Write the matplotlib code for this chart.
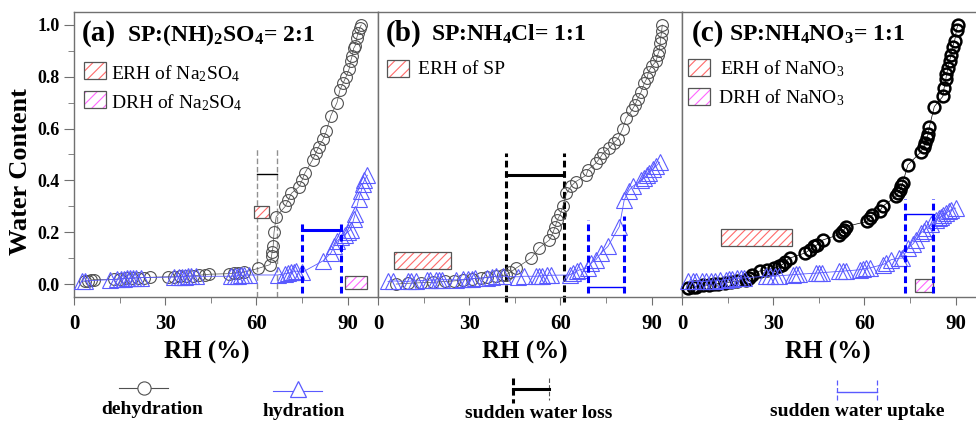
import matplotlib
matplotlib.use("Agg")
import matplotlib.pyplot as plt
from matplotlib.patches import Rectangle
from matplotlib.lines import Line2D
from matplotlib.ticker import MultipleLocator

plt.rcParams['font.family'] = ['Liberation Serif', 'DejaVu Serif']
plt.rcParams['mathtext.fontset'] = 'custom'
plt.rcParams['mathtext.rm'] = 'Liberation Serif'
plt.rcParams['mathtext.it'] = 'Liberation Serif:italic'
plt.rcParams['mathtext.bf'] = 'Liberation Serif:bold'
plt.rcParams['hatch.linewidth'] = 0.8

# ---------------- data ----------------
# panel (a) SP:(NH4)2SO4 = 2:1
dehy_a_x = [3.5, 4.5, 5.5, 6.5, 13, 15, 17, 19, 21, 23, 25, 31, 33, 35, 37, 39, 41, 43, 44.5,
            51, 52.5, 54, 56, 60.5, 64.5, 65, 65.2, 65.5, 65.8, 66.5, 69.5, 70.5, 71.5, 74, 75, 76,
            78.5, 79.5, 80.5, 82, 83, 84.5, 86.5, 87.5, 88.5, 89.5, 90.5, 91, 91.5, 92, 92.5, 93,
            93.5, 94, 94.5]
dehy_a_y = [0.01, 0.012, 0.015, 0.017, 0.018, 0.02, 0.022, 0.022, 0.024, 0.025, 0.026, 0.028, 0.028,
            0.03, 0.03, 0.032, 0.034, 0.036, 0.038, 0.04, 0.042, 0.044, 0.046, 0.06, 0.075, 0.11,
            0.125, 0.145, 0.2, 0.26, 0.30, 0.325, 0.35, 0.375, 0.40, 0.43, 0.48, 0.505, 0.53, 0.56,
            0.59, 0.65, 0.70, 0.75, 0.775, 0.80, 0.83, 0.86, 0.88, 0.91, 0.92, 0.95, 0.97, 0.99, 1.0]
hy_a_x = [2.5, 3.5, 12, 14, 15.5, 16.5, 17.5, 18.5, 19.5, 20.5, 22, 33, 34.5, 35.5, 36.5, 37.5,
          38.5, 40, 51.5, 53, 54, 55, 56, 57.5, 67, 69.5, 70.5, 71.5, 72.5, 73, 75, 82, 84.5, 85.5,
          86.5, 87.7, 89, 90, 91, 92, 92.5, 93.7, 94.5, 95, 95.5, 96.5]
hy_a_y = [0.01, 0.012, 0.017, 0.018, 0.02, 0.021, 0.022, 0.023, 0.024, 0.024, 0.025, 0.027, 0.028,
          0.028, 0.029, 0.03, 0.03, 0.03, 0.03, 0.031, 0.032, 0.033, 0.034, 0.035, 0.035, 0.04,
          0.042, 0.045, 0.048, 0.05, 0.045, 0.09, 0.12, 0.145, 0.165, 0.18, 0.19, 0.2, 0.21, 0.25,
          0.27, 0.33, 0.36, 0.385, 0.40, 0.42]

# panel (b) SP:NH4Cl = 1:1
dehy_b_x = [6, 10, 14, 18, 22, 25, 28, 31, 34, 36, 38.9, 41, 42.2, 43.5, 45.5, 50.4, 53, 56.4, 57.5,
            58.3, 59, 60, 60.8, 62, 63.5, 65, 68.5, 69, 71.7, 73, 74, 76, 77.5, 78.9, 80.5, 81.6,
            83.5, 84.5, 85.4, 86.5, 87.6, 88.5, 89, 90, 91.5, 92, 92.5, 92.8, 93, 93.3, 93.5]
dehy_b_y = [0.0, 0.003, 0.005, 0.007, 0.01, 0.012, 0.016, 0.02, 0.023, 0.026, 0.03, 0.033, 0.036,
            0.045, 0.062, 0.1, 0.14, 0.17, 0.197, 0.222, 0.248, 0.27, 0.3, 0.35, 0.377, 0.395, 0.42,
            0.44, 0.467, 0.486, 0.505, 0.525, 0.545, 0.56, 0.6, 0.64, 0.67, 0.69, 0.715, 0.74,
            0.775, 0.795, 0.82, 0.84, 0.86, 0.885, 0.9, 0.93, 0.95, 0.975, 1.0]
hy_b_x = [3.3, 5, 9.9, 11, 12.6, 16, 17, 19, 20, 21, 25.7, 28, 29.6, 31, 32, 36, 37.5, 38.9, 41,
          46, 48, 52, 53, 54, 55.5, 57, 63, 64, 65.5, 66.3, 69, 70, 71.7, 73.4, 75.6, 79.4, 81,
          82.5, 83.8, 86.5, 87.6, 88.5, 89.3, 90.5, 91.5, 92.6]
hy_b_y = [0.01, 0.012, 0.01, 0.012, 0.012, 0.015, 0.015, 0.016, 0.016, 0.017, 0.016, 0.018, 0.02,
          0.02, 0.022, 0.025, 0.027, 0.03, 0.03, 0.028, 0.03, 0.03, 0.031, 0.032, 0.033, 0.034,
          0.035, 0.042, 0.05, 0.055, 0.062, 0.08, 0.094, 0.12, 0.145, 0.222, 0.325, 0.36, 0.377,
          0.40, 0.41, 0.42, 0.43, 0.445, 0.455, 0.47]

# panel (c) SP:NH4NO3 = 1:1
dehy_c_x = [2, 3.5, 4.7, 7, 9, 10.5, 12, 14, 16, 18, 21, 22, 23, 25.5, 28, 30.4, 32, 33, 34, 35.4,
            40.5, 42, 43.5, 44.5, 46.3, 51.5, 52.5, 53.3, 54, 61, 61.7, 62.5, 65, 66, 70.4, 71,
            71.8, 72.2, 72.6, 74.3, 78.6, 79.5, 80, 80.5, 81, 81.4, 83, 85.8, 86.2, 86.8, 87, 87.5,
            88, 88.5, 89, 89.7, 90.3, 90.7]
dehy_c_y = [-0.015, -0.012, -0.01, -0.005, -0.003, 0.0, 0.002, 0.005, 0.008, 0.01, 0.017, 0.025,
            0.036, 0.05, 0.055, 0.062, 0.07, 0.075, 0.087, 0.1, 0.12, 0.132, 0.145, 0.152, 0.17,
            0.19, 0.2, 0.21, 0.222, 0.242, 0.254, 0.265, 0.28, 0.3, 0.338, 0.35, 0.364, 0.377,
            0.39, 0.46, 0.51, 0.53, 0.544, 0.563, 0.58, 0.608, 0.685, 0.724, 0.756, 0.79, 0.81,
            0.833, 0.86, 0.885, 0.916, 0.94, 0.98, 1.0]
hy_c_x = [2, 3.5, 4.7, 6.5, 8, 9.5, 10.7, 12.5, 14.6, 15.5, 16.5, 18, 19.5, 20.5, 27.7, 29, 30.5,
          32, 36.5, 37.5, 38.5, 44, 45, 46, 51.8, 53, 54, 58.4, 59.5, 60.5, 61.7, 66, 67, 68.8,
          71.5, 72.5, 74.3, 76, 77, 78.6, 79.5, 80.3, 82, 83.6, 84.5, 85.2, 86, 86.9, 87.7, 88.5, 90]
hy_c_y = [0.01, 0.01, 0.01, 0.01, 0.01, 0.012, 0.012, 0.014, 0.017, 0.018, 0.02, 0.022, 0.023,
          0.024, 0.03, 0.03, 0.03, 0.032, 0.036, 0.037, 0.038, 0.042, 0.043, 0.044, 0.049, 0.05,
          0.051, 0.055, 0.058, 0.06, 0.062, 0.075, 0.08, 0.094, 0.1, 0.1, 0.139, 0.155, 0.171,
          0.197, 0.205, 0.216, 0.23, 0.248, 0.255, 0.26, 0.268, 0.274, 0.28, 0.287, 0.293]

# sudden water loss (RH start, RH end, bracket level, top of dashed lines)
loss_a = (60.2, 66.8, 0.425, 0.53)
loss_b = (42.2, 61.3, 0.42, 0.505)
# sudden water uptake (RH start, RH end, bracket level, top left, top right)
uptake_a = (75.0, 87.7, 0.207, 0.24, 0.23)
uptake_b = (69.0, 81.0, -0.012, 0.248, 0.262)
uptake_c = (73.2, 82.5, 0.27, 0.33, 0.33)

# ERH / DRH boxes (RH range, water-content range)
erh_a = (59.1, 64.1, 0.255, 0.30)
drh_a = (89.0, 96.5, -0.02, 0.03)
erh_b = (5.1, 24.1, 0.06, 0.123)
erh_c = (12.9, 36.1, 0.145, 0.212)
drh_c = (76.7, 82.5, -0.032, 0.02)

titles = [("(a)", r"SP:(NH)$_\mathbf{2}$SO$_\mathbf{4}$= 2:1"),
          ("(b)", r"SP:NH$_\mathbf{4}$Cl= 1:1"),
          ("(c)", r"SP:NH$_\mathbf{4}$NO$_\mathbf{3}$= 1:1")]
x_ticks = [0, 30, 60, 90]
y_ticks = [0.0, 0.2, 0.4, 0.6, 0.8, 1.0]

# ---------------- style ----------------
W, H = 976, 422
ERH_COL = '#ff6a6a'
DRH_COL = '#ff66ff'
TRI_COL = '#5a5aff'
SPINE = '#707070'

fig = plt.figure(figsize=(W / 100, H / 100), dpi=100)


def fbox(l, t, r, b):
    return [l / W, 1 - b / H, (r - l) / W, (b - t) / H]


ax_a = fig.add_axes(fbox(74, 12, 378, 297))
ax_b = fig.add_axes(fbox(378, 12, 682, 297))
ax_c = fig.add_axes(fbox(682, 12, 986, 297))
axes = [ax_a, ax_b, ax_c]


def hatch_box(ax, box, col, hatch='////'):
    x0, x1, y0, y1 = box
    ax.add_patch(Rectangle((x0, y0), x1 - x0, y1 - y0, facecolor='white', edgecolor=col,
                           hatch=hatch, linewidth=0, zorder=4))
    ax.add_patch(Rectangle((x0, y0), x1 - x0, y1 - y0, facecolor='none', edgecolor='#555555',
                           linewidth=0.9, zorder=5))


for i, ax in enumerate(axes):
    ax.set_xlim(0, 100)
    ax.set_ylim(-0.05, 1.05)
    for s in ax.spines.values():
        s.set_color(SPINE)
        s.set_linewidth(1.0)
    ax.set_xticks(x_ticks)
    ax.xaxis.set_minor_locator(MultipleLocator(15))
    ax.tick_params(axis='x', which='both', direction='out', color=SPINE, labelsize=15, pad=6)
    ax.tick_params(axis='x', which='major', length=6)
    ax.tick_params(axis='x', which='minor', length=4)
    for lab in ax.get_xticklabels():
        lab.set_fontweight('bold')
    if i == 0:
        ax.set_yticks(y_ticks)
        ax.set_yticklabels([f"{v:.1f}" for v in y_ticks], fontweight='bold', fontsize=13)
        ax.yaxis.set_minor_locator(MultipleLocator(0.1))
        ax.tick_params(axis='y', which='both', direction='out', color=SPINE)
        ax.tick_params(axis='y', which='major', length=7)
        ax.tick_params(axis='y', which='minor', length=4)
    else:
        ax.set_yticks([])

# dehydration / hydration series
for ax, hx, hy, dx, dy, dcol, dlw in [
        (ax_a, hy_a_x, hy_a_y, dehy_a_x, dehy_a_y, '#505050', 0.8),
        (ax_b, hy_b_x, hy_b_y, dehy_b_x, dehy_b_y, '#505050', 0.8),
        (ax_c, hy_c_x, hy_c_y, dehy_c_x, dehy_c_y, 'black', 1.8)]:
    ax.plot(dx, dy, '-', color=dcol, lw=0.5, marker='o', ms=8.5, mfc='none', mec=dcol,
            mew=dlw, zorder=3, clip_on=False)
    ax.plot(hx, hy, '-', color=TRI_COL, lw=0.6, marker='^', ms=11, mfc='none', mec=TRI_COL,
            mew=0.8, zorder=3, clip_on=False)

# sudden water loss
x0, x1, yl, top = loss_a
ax_a.plot([x0, x0], [-0.05, top], color='#909090', lw=1.0, ls=(0, (4, 2)), zorder=2)
ax_a.plot([x1, x1], [-0.05, top], color='#909090', lw=1.0, ls=(0, (4, 2)), zorder=2)
ax_a.plot([x0, x1], [yl, yl], color='black', lw=1.0, zorder=2)
x0, x1, yl, top = loss_b
ax_b.plot([x0, x0], [-0.07, top], color='black', lw=2.2, ls=(0, (2.2, 1.2)), zorder=2, clip_on=False)
ax_b.plot([x1, x1], [-0.07, top], color='black', lw=2.2, ls=(0, (2.2, 1.2)), zorder=2, clip_on=False)
ax_b.plot([x0, x1], [yl, yl], color='black', lw=2.2, zorder=2)

# sudden water uptake
for ax, up, hlw in [(ax_a, uptake_a, 2.2), (ax_b, uptake_b, 1.0), (ax_c, uptake_c, 1.0)]:
    x0, x1, yl, t0, t1 = up
    ax.plot([x0, x0], [-0.035, t0], color='blue', lw=2.2, ls=(0, (2.2, 1.2)), zorder=6)
    ax.plot([x1, x1], [-0.035, t1], color='blue', lw=2.2, ls=(0, (2.2, 1.2)), zorder=6)
    ax.plot([x0, x1], [yl, yl], color='blue', lw=hlw, zorder=6)

# ERH / DRH boxes
hatch_box(ax_a, erh_a, ERH_COL)
hatch_box(ax_a, drh_a, DRH_COL)
hatch_box(ax_b, erh_b, ERH_COL)
hatch_box(ax_c, erh_c, ERH_COL)
hatch_box(ax_c, drh_c, DRH_COL)

# ---------------- overlay (pixel coordinates) ----------------
ov = fig.add_axes([0, 0, 1, 1], zorder=10)
ov.set_xlim(0, W)
ov.set_ylim(H, 0)
ov.axis('off')

# titles
for (lab, rest), xa, xr in zip(titles, [82, 386, 692], [127, 431, 729]):
    ov.text(xa, 41, lab, fontsize=21, fontweight='bold', va='baseline', ha='left')
    ov.text(xr, 41, rest, fontsize=17, fontweight='bold', va='baseline', ha='left')


def legend_box(l, t, col, txt, tx, base):
    ov.add_patch(Rectangle((l, t), 22, 17, facecolor='white', edgecolor=col, hatch='///',
                           linewidth=0))
    ov.add_patch(Rectangle((l, t), 22, 17, facecolor='none', edgecolor='#555555', linewidth=0.9))
    ov.text(tx, base, txt, fontsize=14, va='baseline', ha='left')


legend_box(84, 62, ERH_COL, r"ERH of Na$_2$SO$_4$", 111, 79)
legend_box(84, 91, DRH_COL, r"DRH of Na$_2$SO$_4$", 111, 108)
legend_box(387, 60, ERH_COL, "ERH of SP", 418, 74)
legend_box(688, 59, ERH_COL, r"ERH of NaNO$_3$", 720, 74)
legend_box(688, 88, DRH_COL, r"DRH of NaNO$_3$", 718, 103)

# axis labels
fig.text(21 / W, 1 - 172 / H, "Water Content", rotation=90, fontsize=19, fontweight='bold',
         ha='center', va='center')
for xc in [207, 525, 828]:
    ov.text(xc, 352, "RH (%)", fontsize=18, fontweight='bold', ha='center', va='center')

# bottom legend
ov.add_line(Line2D([119, 168], [388, 388], color='#505050', lw=0.8))
ov.plot([144], [388], marker='o', ms=9.5, mfc='white', mec='#505050', mew=0.8)
ov.text(152, 410, "dehydration", fontsize=14, fontweight='bold', ha='center', va='center')

ov.add_line(Line2D([273, 322], [391, 391], color=TRI_COL, lw=0.8))
ov.plot([298], [389], marker='^', ms=12, mfc='white', mec=TRI_COL, mew=0.9)
ov.text(304, 412, "hydration", fontsize=14, fontweight='bold', ha='center', va='center')

ov.add_line(Line2D([513, 513], [378, 403], color='black', lw=2.2, ls=(0, (2.2, 1.2))))
ov.add_line(Line2D([549, 549], [378, 400], color='#555555', lw=0.8, ls=(0, (4, 2))))
ov.add_line(Line2D([513, 549], [389, 389], color='black', lw=2.2))
ov.text(539, 414, "sudden water loss", fontsize=14, fontweight='bold', ha='center', va='center')

ov.add_line(Line2D([837, 837], [380, 402], color=TRI_COL, lw=0.9, ls=(0, (4, 2))))
ov.add_line(Line2D([877, 877], [380, 402], color=TRI_COL, lw=0.9, ls=(0, (4, 2))))
ov.add_line(Line2D([837, 877], [392, 392], color=TRI_COL, lw=1.0))
ov.text(857, 412, "sudden water uptake", fontsize=14, fontweight='bold', ha='center', va='center')

fig.savefig("out.png", dpi=100)
